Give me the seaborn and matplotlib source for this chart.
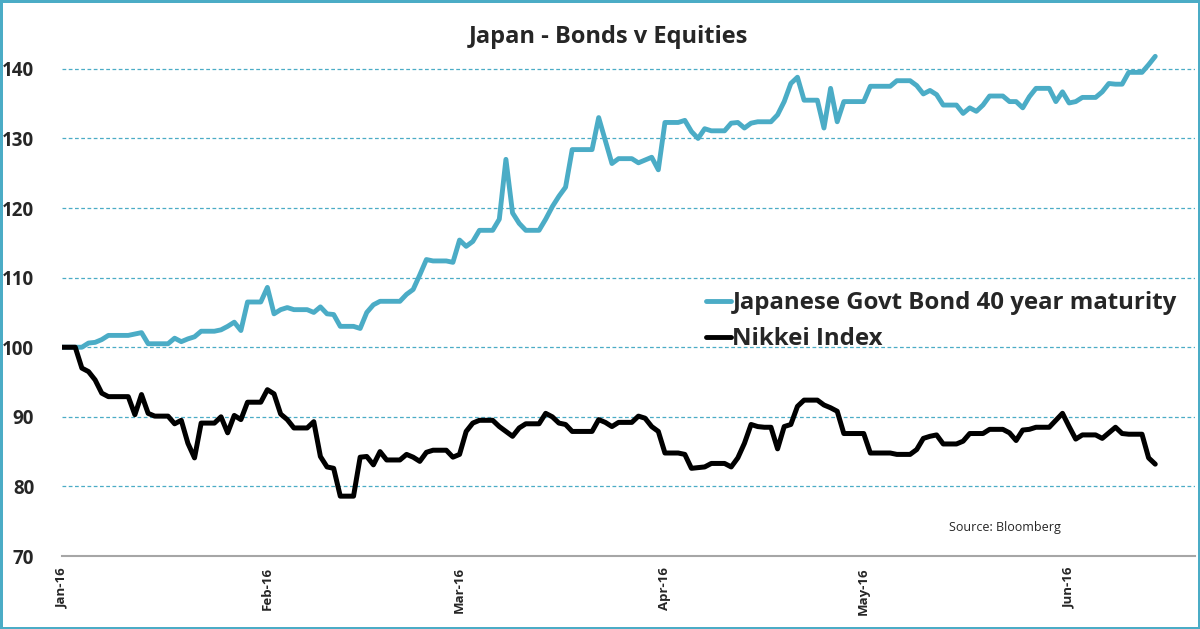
import numpy as np
import pandas as pd
import matplotlib
matplotlib.use("Agg")
from matplotlib import pyplot as plt
import matplotlib.dates as mdates
import seaborn as sns

# daily values (weekends / holidays carried flat), 1 Jan 2016 - 14 Jun 2016, rebased to 100
start_date = "2016-01-01"
end_date = "2016-06-14"

jgb_jan = [100.0, 100.0, 100.0, 100.0, 100.6, 100.7, 101.1, 101.7, 101.7, 101.7,
           101.7, 101.9, 102.1, 100.5, 100.5, 100.5, 100.5, 101.3, 100.8, 101.2,
           101.5, 102.3, 102.3, 102.3, 102.5, 103.0, 103.6, 102.4, 106.5, 106.5,
           106.5]
jgb_feb = [108.6, 104.8, 105.4, 105.7, 105.4, 105.4, 105.4, 105.0, 105.8, 104.8,
           104.7, 103.0, 103.0, 103.0, 102.7, 105.0, 106.1, 106.6, 106.6, 106.6,
           106.6, 107.6, 108.3, 110.4, 112.6, 112.4, 112.4, 112.4, 112.2]
jgb_mar = [115.4, 114.5, 115.2, 116.8, 116.8, 116.8, 118.4, 127.0, 119.3, 117.8,
           116.8, 116.8, 116.8, 118.4, 120.2, 121.7, 123.0, 128.4, 128.4, 128.4,
           128.4, 133.0, 129.7, 126.4, 127.1, 127.1, 127.1, 126.5, 126.9, 127.3,
           125.5]
jgb_apr = [132.3, 132.3, 132.3, 132.6, 131.0, 130.0, 131.4, 131.1, 131.1, 131.1,
           132.2, 132.3, 131.5, 132.2, 132.4, 132.4, 132.4, 133.4, 135.3, 137.9,
           138.8, 135.5, 135.5, 135.5, 131.5, 137.2, 132.4, 135.3, 135.3, 135.3]
jgb_may = [135.3, 137.5, 137.5, 137.5, 137.5, 138.3, 138.3, 138.3, 137.6, 136.4,
           136.9, 136.3, 134.8, 134.8, 134.8, 133.6, 134.4, 133.9, 134.8, 136.1,
           136.1, 136.1, 135.3, 135.3, 134.4, 136.0, 137.2, 137.2, 137.2, 135.3,
           136.7]
jgb_jun = [135.1, 135.3, 135.9, 135.9, 135.9, 136.7, 137.9, 137.8, 137.8, 139.5,
           139.5, 139.5, 140.6, 141.8]

nikkei_jan = [100.0, 100.0, 100.0, 97.0, 96.5, 95.3, 93.4, 92.9, 92.9, 92.9,
              92.9, 90.3, 93.2, 90.5, 90.1, 90.1, 90.1, 89.0, 89.5, 86.2,
              84.1, 89.1, 89.1, 89.1, 90.0, 87.7, 90.2, 89.6, 92.1, 92.1,
              92.1]
nikkei_feb = [93.9, 93.3, 90.4, 89.6, 88.4, 88.4, 88.4, 89.3, 84.3, 82.8,
              82.6, 78.6, 78.6, 78.6, 84.2, 84.3, 83.1, 85.0, 83.8, 83.8,
              83.8, 84.6, 84.2, 83.6, 84.9, 85.2, 85.2, 85.2, 84.2]
nikkei_mar = [84.6, 87.9, 89.1, 89.5, 89.5, 89.5, 88.6, 87.9, 87.2, 88.4,
              89.0, 89.0, 89.0, 90.5, 90.0, 89.1, 88.9, 87.9, 87.9, 87.9,
              87.9, 89.6, 89.2, 88.6, 89.2, 89.2, 89.2, 90.1, 89.8, 88.6,
              87.9]
nikkei_apr = [84.8, 84.8, 84.8, 84.6, 82.6, 82.7, 82.8, 83.3, 83.3, 83.3,
              82.8, 84.1, 86.2, 88.9, 88.6, 88.5, 88.5, 85.4, 88.6, 88.9,
              91.5, 92.4, 92.4, 92.4, 91.7, 91.3, 90.8, 87.6, 87.6, 87.6]
nikkei_may = [87.6, 84.8, 84.8, 84.8, 84.8, 84.6, 84.6, 84.6, 85.3, 86.9,
              87.2, 87.4, 86.1, 86.1, 86.1, 86.5, 87.6, 87.6, 87.6, 88.2,
              88.2, 88.2, 87.7, 86.6, 88.1, 88.2, 88.5, 88.5, 88.5, 89.5,
              90.5]
nikkei_jun = [88.6, 86.8, 87.4, 87.4, 87.4, 86.9, 87.7, 88.5, 87.6, 87.5,
              87.5, 87.5, 84.1, 83.2]

y_ticks = [70, 80, 90, 100, 110, 120, 130, 140]

jgb = jgb_jan + jgb_feb + jgb_mar + jgb_apr + jgb_may + jgb_jun
nikkei = nikkei_jan + nikkei_feb + nikkei_mar + nikkei_apr + nikkei_may + nikkei_jun
dates = pd.date_range(start_date, end_date, freq="D")

df = pd.DataFrame({"date": dates, "jgb": jgb, "nikkei": nikkei})

blue = "#4BACC6"

sns.set_style("white")
plt.rcParams["font.family"] = ["Open Sans", "DejaVu Sans"]
plt.rcParams["lines.solid_joinstyle"] = "round"
plt.rcParams["lines.solid_capstyle"] = "round"

fig = plt.figure(figsize=(12, 6.29), dpi=100)
fig.patch.set_edgecolor(blue)
fig.patch.set_linewidth(2.5)
ax = fig.add_axes([62 / 1200, 73 / 629, (1195 - 62) / 1200, (556 - 48) / 629])

sns.lineplot(data=df, x="date", y="jgb", ax=ax, color=blue, linewidth=3.5,
             label="Japanese Govt Bond 40 year maturity")
sns.lineplot(data=df, x="date", y="nikkei", ax=ax, color="black", linewidth=3.6,
             label="Nikkei Index")

ax.set_ylim(70, 143)
ax.set_xlim(pd.Timestamp("2016-01-01"), pd.Timestamp("2016-06-20"))
ax.set_yticks(y_ticks)
ax.yaxis.grid(True, color=blue, linestyle=(0, (3, 2)), linewidth=0.9)
ax.xaxis.grid(False)
ax.set_axisbelow(True)

ax.xaxis.set_major_locator(mdates.MonthLocator())
ax.xaxis.set_major_formatter(mdates.DateFormatter("%b-%y"))
for lbl in ax.get_xticklabels():
    lbl.set_rotation(90)
    lbl.set_fontweight("bold")
    lbl.set_fontsize(9.5)
for lbl in ax.get_yticklabels():
    lbl.set_fontweight("bold")
    lbl.set_fontsize(13.5)

ax.tick_params(axis="x", direction="out", length=5, width=1, color="#A6A6A6", pad=3)
ax.tick_params(axis="y", length=0, pad=20)
ax.set_xlabel("")
ax.set_ylabel("")
for side in ["top", "right", "left"]:
    ax.spines[side].set_visible(False)
ax.spines["bottom"].set_color("#A6A6A6")
ax.spines["bottom"].set_linewidth(1.5)
# hide gridline at 70 (axis line sits there)
ax.get_ygridlines()[0].set_visible(False)

leg = ax.legend(loc="upper left", bbox_to_anchor=(706 / 1200, 1 - 291 / 629),
                bbox_transform=fig.transFigure, frameon=False, fontsize=17.3,
                handlelength=1.04, handletextpad=0.06, labelspacing=0.5,
                borderpad=0, borderaxespad=0)
for t in leg.get_texts():
    t.set_fontweight("bold")
for h in leg.get_lines():
    h.set_linewidth(3.5)

fig.text(0.5 * (468 + 748) / 1200, 1 - 37 / 629, "Japan - Bonds v Equities",
         ha="center", va="center", fontsize=17, fontweight="bold")
fig.text(949 / 1200, 1 - 528 / 629, "Source: Bloomberg", ha="left", va="center",
         fontsize=9)

fig.savefig("out.png", dpi=100)
